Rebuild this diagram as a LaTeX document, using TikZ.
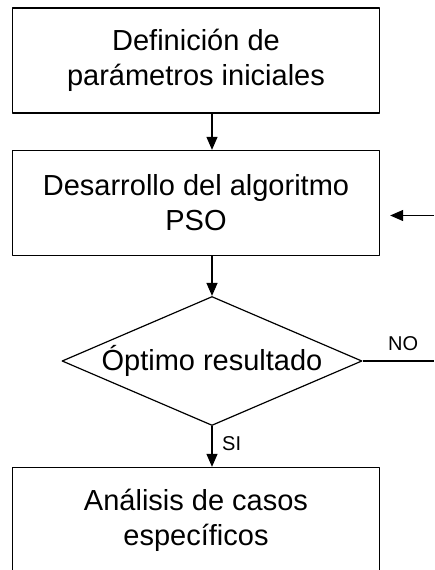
\documentclass[tikz,border=0pt]{standalone}
\usepackage{fontspec}
\setmainfont{Liberation Sans}
\usetikzlibrary{shapes.geometric,arrows.meta}
\tikzset{
  stepbox/.style={draw,line width=1.3pt,rectangle,minimum width=367pt,minimum height=105pt,
    align=center,inner sep=0pt,font=\fontsize{29}{35}\selectfont},
  decision/.style={draw,line width=1.2pt,diamond,aspect=2.33,minimum width=300pt,
    minimum height=129pt,inner sep=0pt,font=\fontsize{29}{35}\selectfont},
  flow/.style={line width=1.2pt,-{Triangle[length=13pt,width=11pt]}},
  tag/.style={font=\fontsize{20}{24}\selectfont,inner sep=0pt}
}
\begin{document}
\begin{tikzpicture}[x=1pt,y=-1pt,line join=round]
            \useasboundingbox (0,0) rectangle (434,570);
            % cajas y decision
            \node[stepbox] (def) at (196,60.5) {Definición de\\parámetros iniciales};
            \node[stepbox] (pso) at (196,203) {Desarrollo del algoritmo\\PSO};
            \node[decision] (opt) at (212,361) {Óptimo resultado};
            \node[stepbox] (ana) at (196,520) {Análisis de casos\\específicos};
            % borde derecho
            \coordinate (noR) at (434,361);
            \coordinate (fbR) at (434,215.5);
            % conectores
            \draw[flow] (def.south -| opt.north) -- (pso.north -| opt.north);
            \draw[flow] (pso.south -| opt.north) -- (opt.north);
            \draw[flow] (opt.south) -- (ana.north -| opt.south);
            \draw[line width=1.2pt] (opt.east) -- (noR);
            \draw[flow,shorten >=10pt] (fbR) -- (fbR -| pso.east);
            \node[tag,anchor=base west] (no) at (388,350) {NO};
            \node[tag,anchor=base west] (si) at (222,450.5) {SI};
        \end{tikzpicture}
\end{document}
